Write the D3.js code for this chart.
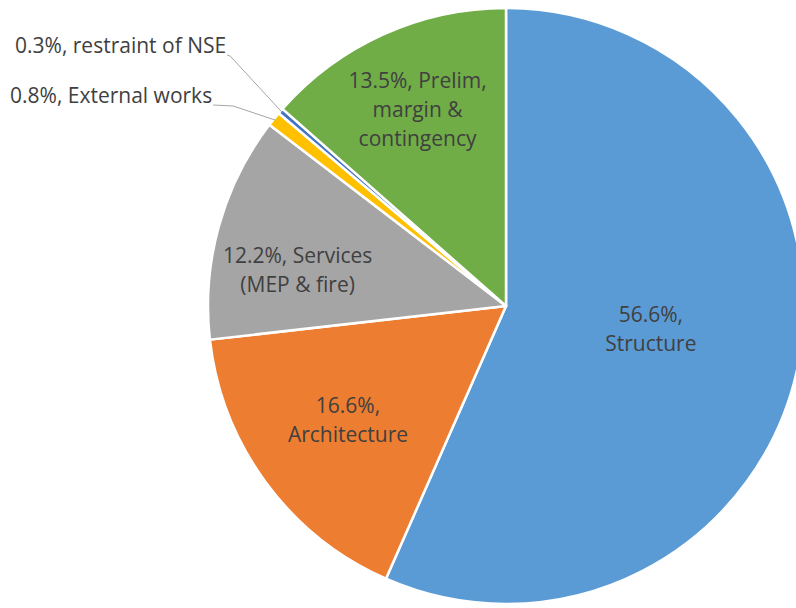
<!DOCTYPE html>
<html>
<head>
<meta charset="utf-8">
<script src="https://cdn.jsdelivr.net/npm/d3@7"></script>
<style>
  body { margin: 0; background: #fff; }
  svg { display: block; }
  text { font-family: "Open Sans", sans-serif; fill: #404040; }
</style>
</head>
<body>
<svg></svg>
<script>
const width = 796;
const height = 608;
const font_size = 21;

// slices, clockwise from 12 o'clock
const categories = ['Structure', 'Architecture', 'Services (MEP & fire)', 'External works', 'restraint of NSE', 'Prelim, margin & contingency'];
const values = [56.6, 16.6, 12.2, 0.8, 0.3, 13.5];
const colors = ['#5B9BD5', '#ED7D31', '#A5A5A5', '#FFC000', '#4472C4', '#70AD47'];
const labelLines = [
    ['56.6%,', 'Structure'],
    ['16.6%,', 'Architecture'],
    ['12.2%, Services', '(MEP & fire)'],
    ['0.8%, External works'],
    ['0.3%, restraint of NSE'],
    ['13.5%, Prelim,', 'margin &', 'contingency']
];

const cx = 506, cy = 306, radius = 298;
const lineHeight = 29;

// inside labels: radius for centroid + small nudge (Excel-ish placement)
const insideLabel = {
    0: {r: 148, dx: 0, dy: -7},
    1: {r: 190, dx: -5, dy: 2},
    2: {r: 210, dx: -6, dy: 20},
    5: {r: 215, dx: 0, dy: 0}
};
// outside labels with leader lines
const outsideLabel = {
    3: {x: 10, y: 103, elbow: 20},
    4: {x: 15, y: 53, elbow: 3}
};

const svg = d3.select('svg')
    .attr('width', width)
    .attr('height', height);
const g = svg.append('g').attr('transform', `translate(${cx},${cy})`);

const data = categories.map((c, i) => ({name: c, value: values[i], i}));

const pie = d3.pie().sort(null).value(d => d.value);
const arc = d3.arc().innerRadius(0).outerRadius(radius);
const arcs = pie(data);

g.selectAll('path.slice')
    .data(arcs)
    .enter().append('path')
    .attr('class', 'slice')
    .attr('d', arc)
    .attr('fill', d => colors[d.data.i])
    .attr('stroke', '#fff')
    .attr('stroke-width', 2.5)
    .attr('stroke-linejoin', 'round');

// inside labels
arcs.filter(d => insideLabel[d.data.i]).forEach(d => {
    const s = insideLabel[d.data.i];
    const c = d3.arc().innerRadius(s.r).outerRadius(s.r).centroid(d);
    const lines = labelLines[d.data.i];
    const x = c[0] + s.dx, y = c[1] + s.dy;
    const t = g.append('text')
        .attr('text-anchor', 'middle')
        .attr('font-size', font_size + 'px');
    lines.forEach((l, k) => {
        t.append('tspan')
            .attr('x', x)
            .attr('y', y - (lines.length - 1) * lineHeight / 2 + k * lineHeight + font_size * 0.35)
            .text(l);
    });
});

// outside labels + leader lines
arcs.filter(d => outsideLabel[d.data.i]).forEach(d => {
    const s = outsideLabel[d.data.i];
    const t = svg.append('text')
        .attr('x', s.x)
        .attr('y', s.y)
        .attr('font-size', font_size + 'px')
        .text(labelLines[d.data.i][0]);
    const w = t.node().getComputedTextLength();
    const mid = (d.startAngle + d.endAngle) / 2;
    const end = [cx + Math.sin(mid) * (radius - 2), cy - Math.cos(mid) * (radius - 2)];
    const x0 = s.x + w + 1, y0 = s.y + 2;
    svg.append('path')
        .attr('d', `M${x0},${y0}L${x0 + s.elbow},${y0 + 1}L${end[0]},${end[1]}`)
        .attr('fill', 'none')
        .attr('stroke', '#A6A6A6')
        .attr('stroke-width', 1);
});
</script>
</body>
</html>
